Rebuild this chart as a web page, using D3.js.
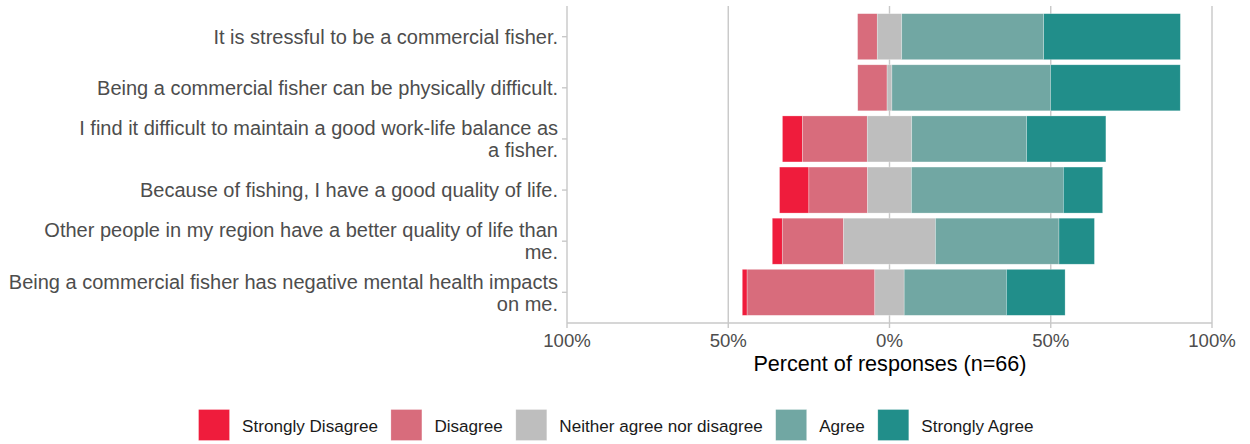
<!DOCTYPE html>
<html>
<head>
<meta charset="utf-8">
<script src="https://cdn.jsdelivr.net/npm/d3@7/dist/d3.min.js"></script>
<style>
  html, body { margin: 0; padding: 0; background: #fff; }
  svg { display: block; font-family: Arial, "Liberation Sans", sans-serif; }
</style>
</head>
<body>
<svg id="chart" width="1250" height="444"></svg>
<script>
// ---- data ----
const questions = [
  "It is stressful to be a commercial fisher.",
  "Being a commercial fisher can be physically difficult.",
  "I find it difficult to maintain a good work-life balance as a fisher.",
  "Because of fishing, I have a good quality of life.",
  "Other people in my region have a better quality of life than me.",
  "Being a commercial fisher has negative mental health impacts on me."
];
const levels = ["Strongly Disagree", "Disagree", "Neither agree nor disagree", "Agree", "Strongly Agree"];
const colors = ["#EF1C3C", "#D86C7C", "#BEBEBE", "#71A7A3", "#218E8A"];
const stronglyDisagree = [0, 0, 6.2, 9.1, 3.1, 1.5];
const disagree         = [6.1, 9.1, 20.1, 18.2, 19.0, 39.6];
const neutral          = [7.6, 1.5, 13.8, 13.6, 28.5, 9.1];
const agree            = [44.0, 49.2, 35.6, 47.1, 38.3, 31.7];
const stronglyAgree    = [42.4, 40.2, 24.6, 12.2, 11.0, 18.2];
const xTicks = [-100, -50, 0, 50, 100];
const xTickLabels = ["100%", "50%", "0%", "50%", "100%"];
const xTitle = "Percent of responses (n=66)";

(function () {
// ---- layout ----
const svg = d3.select("#chart");
const pLeft = 567, pRight = 1212, pTop = 6, pBottom = 323;
const x = d3.scaleLinear().domain([-100, 100]).range([pLeft, pRight]);
const y = d3.scaleBand().domain(questions).range([pTop, pBottom]).paddingInner(0.1).paddingOuter(0.15);

// build segments
const series = [stronglyDisagree, disagree, neutral, agree, stronglyAgree];
const segs = [];
questions.forEach((q, i) => {
  const vals = series.map(s => s[i]);
  let start = -(vals[0] + vals[1] + vals[2] / 2);
  vals.forEach((v, k) => {
    segs.push({q, k, x0: start, x1: start + v});
    start += v;
  });
});

// grid
const gridColor = "#C8C8C8";
svg.append("g").selectAll("line").data(xTicks.filter(t => t > -100)).join("line")
  .attr("x1", d => x(d)).attr("x2", d => x(d))
  .attr("y1", pTop).attr("y2", pBottom)
  .attr("stroke", gridColor).attr("stroke-width", 1.4);

// bars
svg.append("g").selectAll("rect").data(segs.filter(d => d.x1 > d.x0)).join("rect")
  .attr("x", d => x(d.x0)).attr("width", d => x(d.x1) - x(d.x0))
  .attr("y", d => y(d.q)).attr("height", y.bandwidth())
  .attr("fill", d => colors[d.k])
  .attr("stroke", "#ffffff").attr("stroke-opacity", 0.45).attr("stroke-width", 0.6);

// axes lines
svg.append("line").attr("x1", pLeft).attr("x2", pLeft).attr("y1", pTop).attr("y2", pBottom)
  .attr("stroke", gridColor).attr("stroke-width", 1.4);
svg.append("line").attr("x1", pLeft).attr("x2", pRight).attr("y1", pBottom).attr("y2", pBottom)
  .attr("stroke", gridColor).attr("stroke-width", 1.4);

// x axis ticks + labels
const xg = svg.append("g");
xg.selectAll("line").data(xTicks).join("line")
  .attr("x1", d => x(d)).attr("x2", d => x(d))
  .attr("y1", pBottom).attr("y2", pBottom + 5)
  .attr("stroke", gridColor).attr("stroke-width", 1.4);
xg.selectAll("text").data(xTicks).join("text")
  .attr("x", d => x(d)).attr("y", 347)
  .attr("text-anchor", "middle")
  .attr("font-size", "18.6px").attr("fill", "#4D4D4D")
  .text((d, i) => xTickLabels[i]);
svg.append("text").attr("x", (pLeft + pRight) / 2 + 0.5).attr("y", 371)
  .attr("text-anchor", "middle").attr("font-size", "21.6px").attr("fill", "#000")
  .text(xTitle);

// y axis ticks + labels
const yg = svg.append("g");
yg.selectAll("line").data(questions).join("line")
  .attr("x1", pLeft - 5).attr("x2", pLeft)
  .attr("y1", d => y(d) + y.bandwidth() / 2).attr("y2", d => y(d) + y.bandwidth() / 2)
  .attr("stroke", gridColor).attr("stroke-width", 1.4);

function wrap(s, width) {
  const words = s.split(" ");
  const lines = [];
  let cur = "";
  words.forEach(w => {
    if (cur === "") cur = w;
    else if ((cur + " " + w).length <= width) cur += " " + w;
    else { lines.push(cur); cur = w; }
  });
  if (cur) lines.push(cur);
  return lines;
}
const lh = 22;
questions.forEach(q => {
  const lines = wrap(q, 60);
  const cy = y(q) + y.bandwidth() / 2;
  const t = yg.append("text").attr("text-anchor", "end")
    .attr("font-size", "20px").attr("fill", "#4D4D4D");
  lines.forEach((ln, j) => {
    t.append("tspan").attr("x", 558)
      .attr("y", cy + 7.3 + (j - (lines.length - 1) / 2) * lh)
      .text(ln);
  });
});

// legend
const lg = svg.append("g");
const keySize = 31, keyGap = 12.5, itemGap = 13;
const items = levels.map((l, i) => {
  const g = lg.append("g");
  g.append("rect").attr("width", keySize).attr("height", keySize).attr("fill", colors[i])
    .attr("stroke", "#fff").attr("stroke-opacity", 0.45).attr("stroke-width", 0.6);
  const t = g.append("text").attr("x", keySize + keyGap).attr("y", 22.5)
    .attr("font-size", "17.1px").attr("fill", "#1A1A1A").text(l);
  return {g, w: keySize + keyGap + t.node().getComputedTextLength()};
});
const total = d3.sum(items, d => d.w) + itemGap * (items.length - 1);
let cx = 616 - total / 2;
items.forEach(it => {
  it.g.attr("transform", `translate(${cx},409.5)`);
  cx += it.w + itemGap;
});
})();
</script>
</body>
</html>
